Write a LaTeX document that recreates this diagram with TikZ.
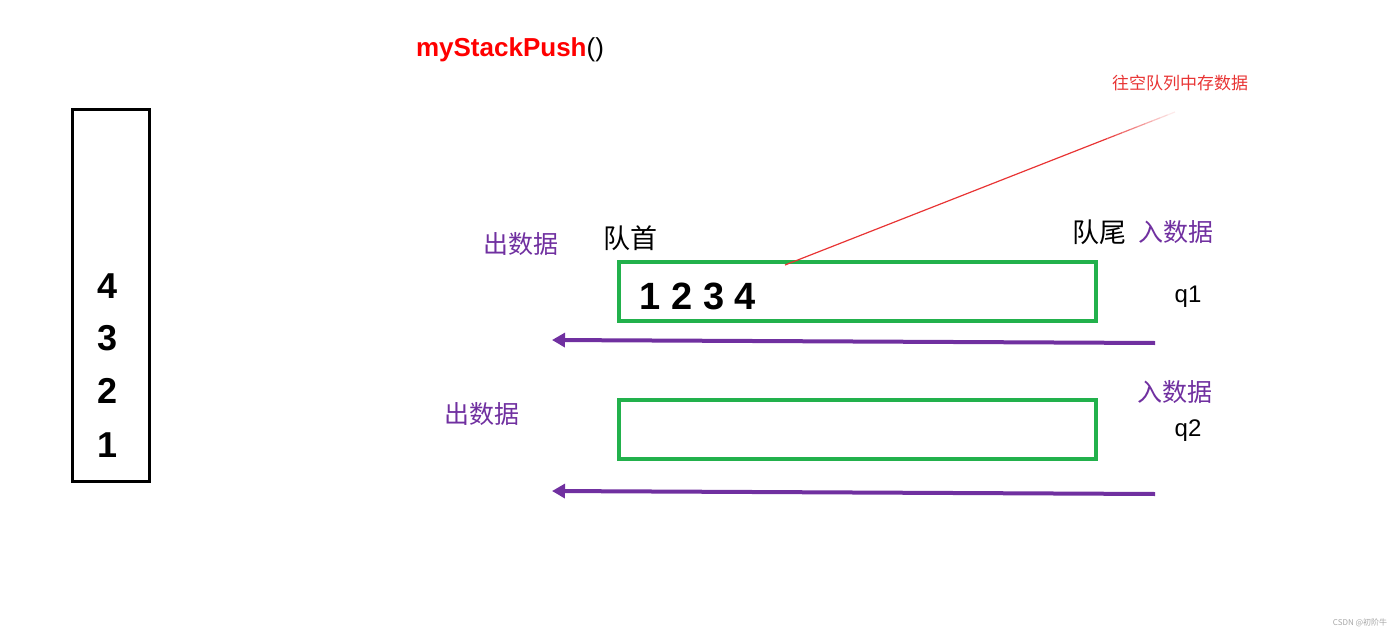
\documentclass[tikz,border=0pt]{standalone}
\usepackage{fontspec}
\setmainfont{Liberation Sans}
\newfontfamily\cjk{Noto Sans CJK SC}
\usetikzlibrary{arrows.meta,calc}
\definecolor{qgreen}{RGB}{34,177,76}
\definecolor{qpurple}{RGB}{112,48,160}
\definecolor{hintred}{RGB}{232,52,52}
\newcommand{\fs}[1]{\fontsize{#1}{#1}\selectfont}
\begin{document}
\begin{tikzpicture}[x=1pt, y=-1pt, every node/.style={inner sep=0pt},
  queue/.style={draw=qgreen, line width=4pt, minimum width=477pt, minimum height=59pt},
  flow/.style={qpurple, line width=4pt, -{Triangle[length=13pt,width=14pt]}},
  io/.style={text=qpurple, font=\cjk\fs{25}},
  tag/.style={font=\cjk\fs{27}},
  qname/.style={font=\fs{24}}]
  \useasboundingbox (0,0) rectangle (1400,634);
  % stack
  \node[draw, line width=3pt, minimum width=77pt, minimum height=372pt] (stack) at (111,295.5) {};
  \foreach \d/\y in {4/286, 3/338, 2/391, 1/445}
    \node[font=\bfseries\fs{36}] (s\d) at (108,\y) {\d};
  % title
  \node (push) at (510,50) {\fs{26}\textcolor{red}{\bfseries myStackPush}()};
  % queue q1
  \node[queue] (q1) at (857.5,291.5) {};
  \node[font=\bfseries\fs{38}] (data) at (698,296) {1 2 3 4};
  \node[tag] (head) at (630,238) {队首};
  \node[tag] (tail) at (1099,232) {队尾};
  \node[io] (in1) at (1176,232) {入数据};
  \node[io] (out1) at (521,244) {出数据};
  \node[qname] (n1) at (1188,297) {q1};
  \coordinate (a1s) at (1155,343);
  \coordinate (a1e) at (552,340);
  \draw[flow] (a1s) -- (a1e);
  % queue q2
  \node[queue] (q2) at (857.5,429.5) {};
  \node[io] (in2) at (1175,392) {入数据};
  \node[io] (out2) at (482,414) {出数据};
  \node[qname] (n2) at (1188,431) {q2};
  \coordinate (a2s) at (1155,494);
  \coordinate (a2e) at (552,491);
  \draw[flow] (a2s) -- (a2e);
  % hint
  \node[text=hintred, font=\cjk\fs{17}] (hint) at (1180,83) {往空队列中存数据};
  \coordinate (tip) at (785,265);
  \coordinate (mid) at (1100,141.4);
  \coordinate (far) at (1175,112);
  \draw[hintred, line width=1.2pt] (tip) -- (mid);
  \foreach \i in {0,...,9}
    \draw[hintred, line width=1.2pt, opacity={1-\i/10}] ($(mid)!\i/10!(far)$) -- ($(mid)!\i/10+0.1!(far)$);
  % watermark
  \node[text=gray!70, font=\cjk\fs{8}] (mark) at (1360,623) {CSDN @初阶牛};
\end{tikzpicture}
\end{document}
